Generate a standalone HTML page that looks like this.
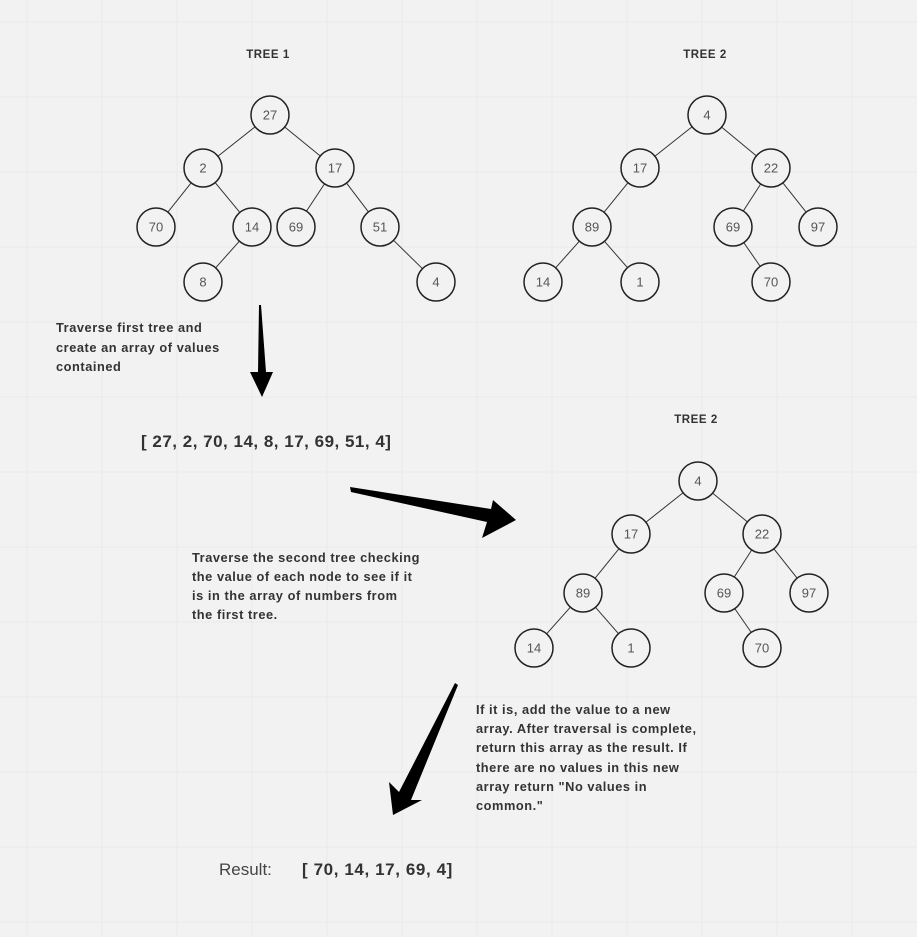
<!DOCTYPE html>
<html><head><meta charset="utf-8"><style>
body{margin:0;width:917px;height:937px;overflow:hidden;background:#f2f2f2;font-family:"Liberation Sans",sans-serif;}
svg{position:absolute;left:0;top:0}
.t{font-weight:bold;fill:#333;font-size:12.8px;letter-spacing:0.55px}
.n{fill:#555;font-size:13px;text-anchor:middle;dominant-baseline:central}
</style></head><body>
<svg id="s" width="917" height="937" xmlns="http://www.w3.org/2000/svg">
<g id="grid"></g>
<g id="edges"></g>
<g id="nodes"></g>
<text x="268" y="58" text-anchor="middle" class="t" style="font-size:11.5px">TREE 1</text>
<text x="705" y="58" text-anchor="middle" class="t" style="font-size:11.5px">TREE 2</text>
<text x="696" y="423" text-anchor="middle" class="t" style="font-size:11.5px">TREE 2</text>
<text class="t"><tspan x="56" y="332">Traverse first tree and</tspan><tspan x="56" y="352">create an array of values</tspan><tspan x="56" y="371">contained</tspan></text>
<text x="141" y="447" class="t" style="font-size:17px;letter-spacing:0.5px">[ 27, 2, 70, 14, 8, 17, 69, 51, 4]</text>
<text class="t"><tspan x="192" y="562">Traverse the second tree checking</tspan><tspan x="192" y="581">the value of each node to see if it</tspan><tspan x="192" y="600">is in the array of numbers from</tspan><tspan x="192" y="619">the first tree.</tspan></text>
<text class="t"><tspan x="476" y="714">If it is, add the value to a new</tspan><tspan x="476" y="733">array. After traversal is complete,</tspan><tspan x="476" y="752">return this array as the result. If</tspan><tspan x="476" y="772">there are no values in this new</tspan><tspan x="476" y="791">array return "No values in</tspan><tspan x="476" y="810">common."</tspan></text>
<text x="219" y="875" style="font-size:17px;fill:#444">Result:</text>
<text x="302" y="875" class="t" style="font-size:17px;letter-spacing:0.6px">[ 70, 14, 17, 69, 4]</text>
<polygon points="259,305 261,305 266,372 273,372 262,397 250,372 258,372" fill="#000"/>
<polygon points="350,487 351,492 487,522 482,538 516,520 493,500 491,509" fill="#000"/>
<polygon points="455,683 458,685 411,800 422,800 393,815 389,782 399,792" fill="#000"/>
</svg>
<script>
const tree1Values=[27,2,17,70,14,69,51,8,4];
const tree1Pos=[[270,115],[203,168],[335,168],[156,227],[252,227],[296,227],[380,227],[203,282],[436,282]];
const tree1Edges=[[0,1],[0,2],[1,3],[1,4],[2,5],[2,6],[4,7],[6,8]];
const tree2Values=[4,17,22,89,69,97,14,1,70];
const tree2Pos=[[707,115],[640,168],[771,168],[592,227],[733,227],[818,227],[543,282],[640,282],[771,282]];
const tree2Edges=[[0,1],[0,2],[1,3],[2,4],[2,5],[3,6],[3,7],[4,8]];
const NS="http://www.w3.org/2000/svg";
const grid=document.getElementById('grid'),E=document.getElementById('edges'),N=document.getElementById('nodes');
for(let x=27;x<917;x+=75){const l=document.createElementNS(NS,'line');l.setAttribute('x1',x);l.setAttribute('x2',x);l.setAttribute('y1',0);l.setAttribute('y2',937);l.setAttribute('stroke','#e9e9e9');


grid.appendChild(l);}
for(let y=22;y<937;y+=75){const l=document.createElementNS(NS,'line');l.setAttribute('y1',y);l.setAttribute('y2',y);l.setAttribute('x1',0);l.setAttribute('x2',917);l.setAttribute('stroke','#e9e9e9');


grid.appendChild(l);}
function draw(vals,pos,edges,dx,dy,name){
 const r=19;
 edges.forEach(([a,b])=>{const [x1,y1]=pos[a],[x2,y2]=pos[b];const d=Math.hypot(x2-x1,y2-y1);const ux=(x2-x1)/d,uy=(y2-y1)/d;
  const l=document.createElementNS(NS,'line');l.setAttribute('x1',x1+dx+ux*r);l.setAttribute('y1',y1+dy+uy*r);l.setAttribute('x2',x2+dx-ux*r);l.setAttribute('y2',y2+dy-uy*r);l.setAttribute('stroke','#333');l.setAttribute('stroke-width','1');
  
  
  E.appendChild(l);});
 vals.forEach((v,i)=>{const [x,y]=pos[i];const g=document.createElementNS(NS,'g');
  
  
  const c=document.createElementNS(NS,'circle');c.setAttribute('cx',x+dx);c.setAttribute('cy',y+dy);c.setAttribute('r',r);c.setAttribute('fill','#f2f2f2');c.setAttribute('stroke','#222');c.setAttribute('stroke-width','1.5');
  const t=document.createElementNS(NS,'text');t.setAttribute('x',x+dx);t.setAttribute('y',y+dy);t.setAttribute('class','n');t.textContent=v;
  g.appendChild(c);g.appendChild(t);N.appendChild(g);});
}
draw(tree1Values,tree1Pos,tree1Edges,0,0,'tree1');
draw(tree2Values,tree2Pos,tree2Edges,0,0,'tree2');
draw(tree2Values,tree2Pos,tree2Edges,-9,366,'tree2-copy');
</script>
</body></html>
